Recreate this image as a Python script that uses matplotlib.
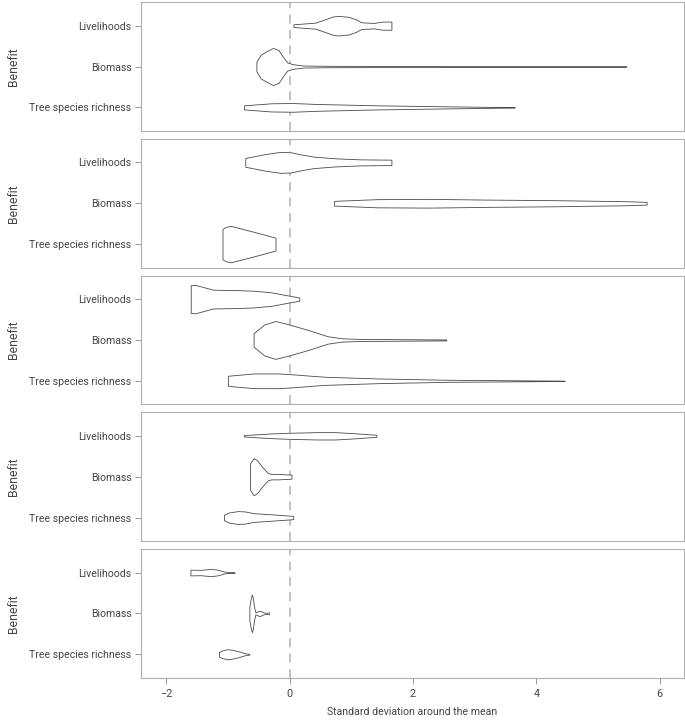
import numpy as np
import matplotlib.pyplot as plt

plt.rcParams['font.family'] = ['Roboto', 'DejaVu Sans']

benefits = ["Livelihoods", "Biomass", "Tree species richness"]
x_ticks = [-2, 0, 2, 4, 6]

# violin outlines: x position (SD) and half width (category units)
liv1_x = [0.06, 0.42, 0.56, 0.70, 0.79, 0.96, 1.08, 1.16, 1.36, 1.51, 1.65]
liv1_w = [0.033, 0.074, 0.149, 0.223, 0.24, 0.215, 0.149, 0.083, 0.066, 0.10, 0.10]
bio1_x = [-0.54, -0.47, -0.38, -0.27, -0.18, -0.115, -0.04, 0.046, 0.22, 0.62, 3.14, 5.46]
bio1_w = [0.116, 0.29, 0.37, 0.455, 0.40, 0.25, 0.10, 0.058, 0.025, 0.017, 0.008, 0.008]
tree1_x = [-0.74, -0.30, 0.046, 0.45, 1.42, 2.57, 3.65]
tree1_w = [0.05, 0.10, 0.107, 0.083, 0.05, 0.025, 0.004]

liv2_x = [-0.72, -0.41, -0.155, 0.017, 0.16, 0.39, 0.73, 1.135, 1.65]
liv2_w = [0.107, 0.20, 0.256, 0.248, 0.20, 0.14, 0.10, 0.074, 0.066]
bio2_x = [0.72, 1.42, 2.28, 3.14, 4.29, 5.44, 5.79]
bio2_w = [0.058, 0.10, 0.107, 0.09, 0.075, 0.05, 0.033]
tree2_x = [-1.09, -1.04, -0.958, -0.70, -0.47, -0.23]
tree2_w = [0.37, 0.42, 0.446, 0.347, 0.256, 0.157]

liv3_x = [-1.605, -1.53, -1.39, -1.244, -0.87, -0.585, -0.298, -0.069, 0.155]
liv3_w = [0.34, 0.347, 0.29, 0.23, 0.22, 0.205, 0.165, 0.10, 0.04]
bio3_x = [-0.585, -0.413, -0.229, -0.011, 0.275, 0.619, 0.849, 1.135, 1.995, 2.54]
bio3_w = [0.165, 0.38, 0.463, 0.38, 0.256, 0.09, 0.04, 0.025, 0.017, 0.012]
tree3_x = [-1.0, -0.585, -0.183, -0.011, 0.562, 1.42, 2.57, 4.46]
tree3_w = [0.124, 0.18, 0.18, 0.165, 0.10, 0.058, 0.025, 0.004]

liv4_x = [-0.745, -0.298, -0.011, 0.447, 0.734, 1.02, 1.405]
liv4_w = [0.017, 0.058, 0.074, 0.09, 0.09, 0.066, 0.025]
bio4_x = [-0.642, -0.585, -0.528, -0.44, -0.355, -0.298, -0.183, 0.029]
bio4_w = [0.33, 0.455, 0.40, 0.23, 0.09, 0.066, 0.066, 0.05]
tree4_x = [-1.067, -0.986, -0.843, -0.728, -0.585, -0.413, -0.183, 0.057]
tree4_w = [0.066, 0.124, 0.157, 0.149, 0.107, 0.09, 0.066, 0.04]

liv5_x = [-1.61, -1.445, -1.273, -1.158, -1.072, -0.986, -0.895]
liv5_w = [0.07, 0.066, 0.09, 0.066, 0.025, 0.008, 0.008]
bio5_x = [-0.654, -0.636, -0.614, -0.596, -0.579, -0.556, -0.528, -0.493, -0.459, -0.424, -0.384, -0.338]
bio5_w = [0.17, 0.33, 0.463, 0.37, 0.17, 0.025, 0.041, 0.066, 0.05, 0.025, 0.012, 0.025]
tree5_x = [-1.147, -1.1, -1.015, -0.929, -0.814, -0.728, -0.654]
tree5_w = [0.058, 0.09, 0.124, 0.107, 0.066, 0.025, 0.008]

panels = [
    [(liv1_x, liv1_w), (bio1_x, bio1_w), (tree1_x, tree1_w)],
    [(liv2_x, liv2_w), (bio2_x, bio2_w), (tree2_x, tree2_w)],
    [(liv3_x, liv3_w), (bio3_x, bio3_w), (tree3_x, tree3_w)],
    [(liv4_x, liv4_w), (bio4_x, bio4_w), (tree4_x, tree4_w)],
    [(liv5_x, liv5_w), (bio5_x, bio5_w), (tree5_x, tree5_w)],
]

fig = plt.figure(figsize=(6.85, 7.21), dpi=100)
left, right = 0.206, 0.998
top, bottom = 0.997, 0.060
gap = 8 / 721
h = (top - bottom - 4 * gap) / 5

spine_col = '#b0b0b0'
text_col = '#444444'

for i, violins in enumerate(panels):
    y0 = top - (i + 1) * h - i * gap
    ax = fig.add_axes([left, y0, right - left, h])
    for j, (vx, vw) in enumerate(violins):
        vx = np.array(vx)
        vw = np.array(vw)
        ax.fill_between(vx, j - vw, j + vw, facecolor='white',
                        edgecolor='#4a4a4a', linewidth=0.6, zorder=3)
    ax.axvline(0, color='#bdbdbd', linestyle=(0, (5, 3.5)), linewidth=1.3, zorder=1)
    ax.set_xlim(-2.41, 6.39)
    ax.set_ylim(2.575, -0.575)
    ax.set_yticks(range(len(benefits)))
    ax.set_yticklabels(benefits, fontsize=7.6, color=text_col)
    ax.set_ylabel("Benefit", fontsize=8.8, color=text_col, labelpad=7)
    ax.tick_params(axis='y', length=4, width=0.6, color='#888888', pad=3)
    for s in ax.spines.values():
        s.set_color(spine_col)
        s.set_linewidth(0.8)
    if i < len(panels) - 1:
        ax.set_xticks([])
    else:
        ax.set_xticks(x_ticks)
        ax.set_xticklabels(["\u2212" + str(-t) if t < 0 else str(t) for t in x_ticks],
                           fontsize=7.8, color=text_col)
        ax.tick_params(axis='x', length=4, width=0.6, color='#888888', pad=4)
        ax.set_xlabel("Standard deviation around the mean", fontsize=7.6,
                      color=text_col, labelpad=6)

fig.savefig("out.png", dpi=100)
